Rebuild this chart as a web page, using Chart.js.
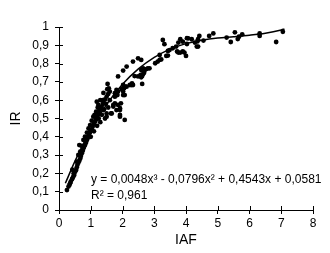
<!DOCTYPE html>
<html>
<head>
<meta charset="utf-8">
<script src="https://cdn.jsdelivr.net/npm/chart.js@4/dist/chart.umd.min.js"></script>
<style>
  html, body { margin: 0; padding: 0; background: #fff; }
  #irChart { display: block; }
</style>
</head>
<body>
<canvas id="irChart" width="330" height="253"></canvas>
<script>
const iafValues = [
  0.25, 0.30, 0.33, 0.35, 0.37, 0.41, 0.44, 0.46, 0.48, 0.51, 0.42, 0.54, 0.56, 0.58, 0.56,
  0.61, 0.64, 0.67, 0.69, 0.61, 0.72, 0.67, 0.75, 0.77, 0.72, 0.79, 0.64, 0.82, 0.85, 0.77,
  0.88, 0.90, 0.82, 0.93, 0.88, 0.96, 0.98, 1.03, 0.93, 1.06, 0.98, 1.10, 1.14, 1.03, 1.17,
  1.08, 1.19, 1.24, 1.27, 1.17, 1.29, 1.34, 1.24, 1.38, 1.19, 1.40, 1.45, 1.50, 1.55, 1.60,
  1.50, 1.35, 1.42, 1.48, 1.38, 1.55, 1.45, 1.60, 1.30, 1.52, 1.40, 1.40, 1.50, 1.66, 1.92,
  1.53, 1.57, 1.64, 1.71, 1.76, 1.71, 1.81, 1.86, 1.92, 1.92, 1.95, 2.07, 1.92, 1.76, 1.84,
  1.76, 2.02, 2.07, 1.81, 1.86, 1.97, 2.02, 2.02, 2.05, 2.09, 2.13, 2.23, 2.28, 2.33, 2.30,
  2.62, 1.86, 2.38, 2.49, 2.57, 2.59, 2.62, 2.65, 2.68, 2.02, 2.13, 2.33, 2.49, 2.59, 2.59,
  2.65, 2.70, 2.75, 2.80, 2.85, 3.03, 3.11, 3.17, 3.22, 3.17, 3.38, 3.43, 3.43, 3.48, 3.58,
  3.69, 3.27, 3.32, 3.72, 3.76, 3.82, 3.90, 3.95, 4.00, 3.76, 3.82, 3.90, 4.03, 4.03, 4.07,
  4.18, 4.28, 4.36, 4.34, 4.38, 4.38, 4.42, 4.55, 4.73, 4.86, 5.28, 5.41, 5.54, 5.63, 5.67,
  5.77, 6.32, 6.32, 6.84, 7.05,
  1.00, 1.10, 1.20, 1.25, 1.12, 1.30, 1.22
];
const irValues = [
  0.109, 0.128, 0.137, 0.146, 0.155, 0.168, 0.179, 0.200, 0.191, 0.209, 0.220, 0.219, 0.233, 0.246, 0.264,
  0.258, 0.269, 0.282, 0.295, 0.301, 0.310, 0.319, 0.324, 0.337, 0.350, 0.346, 0.355, 0.355, 0.368, 0.383,
  0.383, 0.392, 0.401, 0.404, 0.423, 0.419, 0.428, 0.441, 0.446, 0.455, 0.464, 0.470, 0.483, 0.488, 0.496,
  0.510, 0.510, 0.525, 0.537, 0.537, 0.550, 0.565, 0.574, 0.579, 0.592, 0.592, 0.605, 0.619, 0.634, 0.647,
  0.510, 0.520, 0.550, 0.580, 0.600, 0.560, 0.500, 0.600, 0.480, 0.660, 0.640, 0.546, 0.528, 0.528, 0.546,
  0.689, 0.665, 0.528, 0.565, 0.583, 0.574, 0.546, 0.574, 0.510, 0.519, 0.583, 0.492, 0.556, 0.619, 0.628,
  0.638, 0.628, 0.628, 0.656, 0.647, 0.661, 0.647, 0.683, 0.665, 0.674, 0.674, 0.683, 0.683, 0.683, 0.692,
  0.689, 0.730, 0.732, 0.730, 0.738, 0.725, 0.732, 0.743, 0.750, 0.762, 0.784, 0.811, 0.829, 0.820, 0.765,
  0.774, 0.765, 0.770, 0.774, 0.774, 0.802, 0.811, 0.820, 0.823, 0.847, 0.842, 0.844, 0.869, 0.874, 0.884,
  0.893, 0.929, 0.906, 0.866, 0.860, 0.860, 0.866, 0.860, 0.842, 0.915, 0.933, 0.920, 0.907, 0.939, 0.938,
  0.933, 0.915, 0.921, 0.893, 0.893, 0.933, 0.951, 0.926, 0.951, 0.965, 0.942, 0.918, 0.971, 0.934, 0.947,
  0.960, 0.951, 0.965, 0.918, 0.974,
  0.400, 0.430, 0.460, 0.500, 0.520, 0.600, 0.560
];

// polynomial trend line
const trendIaf = [0.2, 0.5, 1, 1.5, 2, 2.5, 3, 3.5, 4, 4.5, 5, 5.5, 6, 6.5, 7, 7.1];
const trendIr = [0.146, 0.266, 0.438, 0.577, 0.687, 0.771, 0.834, 0.879, 0.909, 0.928, 0.940, 0.947, 0.955, 0.966, 0.984, 0.989];

const equationLines = ['y = 0,0048x\u00B3 - 0,0796x\u00B2 + 0,4543x + 0,0581', 'R\u00B2 = 0,961'];

const FONT = "'Liberation Sans', Arial, sans-serif";

// Excel style tick marks cross the axis, so add the inner half here
const innerTicks = {
  id: 'innerTicks',
  afterDraw(chart) {
    const ctx = chart.ctx;
    const { x, y } = chart.scales;
    const area = chart.chartArea;
    ctx.save();
    ctx.strokeStyle = '#000';
    ctx.lineWidth = 1;
    ctx.beginPath();
    x.ticks.forEach(t => {
      const px = Math.round(x.getPixelForValue(t.value)) + 0.5;
      ctx.moveTo(px, area.bottom);
      ctx.lineTo(px, area.bottom - 4);
    });
    y.ticks.forEach(t => {
      const py = Math.round(y.getPixelForValue(t.value)) + 0.5;
      ctx.moveTo(area.left, py);
      ctx.lineTo(area.left + 4, py);
    });
    ctx.stroke();

    // regression equation text
    ctx.fillStyle = '#000';
    ctx.font = '12px ' + FONT;
    ctx.textBaseline = 'middle';
    ctx.textAlign = 'left';
    ctx.fillText(equationLines[0], 91, 180);
    ctx.fillText(equationLines[1], 91, 196);
    ctx.restore();
  }
};

function commaLabel(v) {
  const s = (Math.round(v * 10) / 10).toString();
  return s.replace('.', ',');
}

const ctx = document.getElementById('irChart').getContext('2d');
new Chart(ctx, {
  type: 'scatter',
  data: {
    datasets: [
      {
        label: 'trend',
        type: 'line',
        data: trendIaf.map((v, i) => ({ x: v, y: trendIr[i] })),
        borderColor: '#000',
        borderWidth: 1.5,
        pointRadius: 0,
        cubicInterpolationMode: 'monotone',
        fill: false,
        order: 0
      },
      {
        label: 'IR',
        data: iafValues.map((v, i) => ({ x: v, y: irValues[i] })),
        backgroundColor: '#000',
        borderColor: '#000',
        pointRadius: 2.4,
        pointBorderWidth: 0,
        order: 1
      }
    ]
  },
  options: {
    responsive: false,
    animation: false,
    layout: { padding: { left: 0, right: 17, top: 27, bottom: 0 } },
    plugins: {
      legend: { display: false },
      tooltip: { enabled: false }
    },
    scales: {
      x: {
        type: 'linear',
        min: 0,
        max: 8,
        afterFit: (s) => { s.height = 43; },
        border: { display: true, color: '#000', width: 1 },
        grid: { display: true, drawOnChartArea: false, drawTicks: true, tickLength: 4, color: '#000' },
        ticks: { stepSize: 1, color: '#000', padding: 2, font: { family: FONT, size: 12 }, maxRotation: 0 },
        title: { display: true, text: 'IAF', color: '#000', font: { family: FONT, size: 14 }, padding: { top: 0, bottom: 4 } }
      },
      y: {
        type: 'linear',
        min: 0,
        max: 1,
        afterFit: (s) => { s.width = 59; },
        border: { display: true, color: '#000', width: 1 },
        grid: { display: true, drawOnChartArea: false, drawTicks: true, tickLength: 4, color: '#000' },
        ticks: { stepSize: 0.1, color: '#000', padding: 6, font: { family: FONT, size: 12 }, callback: commaLabel },
        title: { display: true, text: 'IR', color: '#000', font: { family: FONT, size: 14 }, padding: { top: 8, bottom: 0 } }
      }
    }
  },
  plugins: [innerTicks]
});
</script>
</body>
</html>
